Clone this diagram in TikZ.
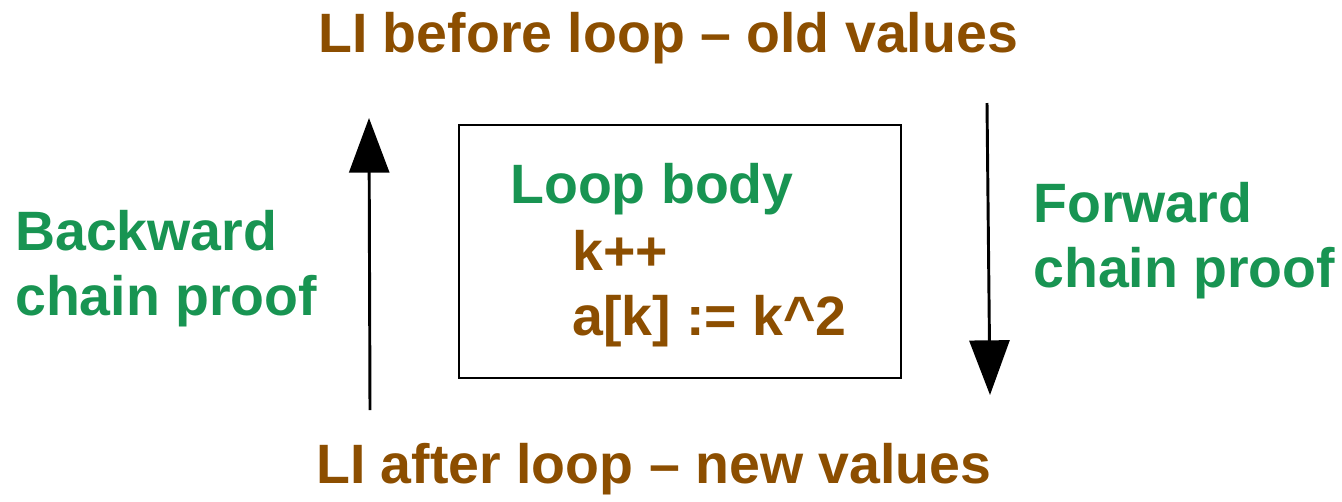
\documentclass[tikz,border=0pt]{standalone}
\usepackage{fontspec}
\setmainfont{Liberation Sans}
\usetikzlibrary{arrows.meta}
\definecolor{brownc}{RGB}{140,78,0}
\definecolor{greenc}{RGB}{24,148,82}
\begin{document}
\begin{tikzpicture}[x=0.75pt,y=-0.75pt,
  txt/.style={anchor=base west,inner sep=0pt,font=\fontsize{41.6}{49}\selectfont\bfseries},
  br/.style={txt,text=brownc},
  gr/.style={txt,text=greenc},
  bigarrow/.style={line width=2.2pt,-{Triangle[length=41pt,width=30pt]}}]
\useasboundingbox (0,0) rectangle (1342,501);
\node[br] (top) at (318,52) {LI before loop -- old values};
\node[br] (bot) at (316,483) {LI after loop -- new values};
\node[gr] (bw1) at (15,250) {Backward};
\node[gr] (bw2) at (15,315) {chain proof};
\node[gr] (fw1) at (1033,222) {Forward};
\node[gr] (fw2) at (1033,287) {chain proof};
\draw[line width=1.6pt] (459,125) rectangle (901,378);
\node[gr] (lb) at (510,203) {Loop body};
\node[br] (kpp) at (572,270) {k++};
\node[br] (asg) at (572,335) {a[k] := k\textasciicircum 2};
\coordinate (ls) at (370,410);
\coordinate (le) at (369,118);
\coordinate (rs) at (987,103);
\coordinate (re) at (990,395);
\draw[bigarrow] (ls) -- (le);
\draw[bigarrow] (rs) -- (re);
\end{tikzpicture}
\end{document}
